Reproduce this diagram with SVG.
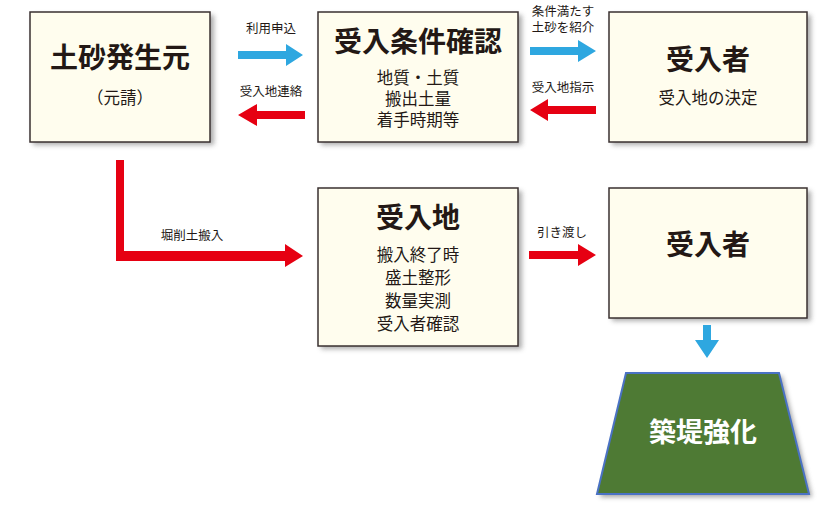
<svg xmlns="http://www.w3.org/2000/svg" width="840" height="510" viewBox="0 0 840 510">
<defs>
<filter id="sh" x="-10%" y="-10%" width="130%" height="130%"><feGaussianBlur stdDeviation="2.5"/></filter>
<style>
.box{fill:#fffdee;stroke:#3a3030;stroke-width:1.5}
.shd{fill:#888;filter:url(#sh);opacity:0.7}
text{font-family:"Noto Sans CJK JP","Noto Sans",sans-serif;fill:#231815;text-anchor:middle}
.t{font-size:28px;font-weight:bold}
.s{font-size:16.5px}
.l{font-size:12.5px}
.blue{fill:#2ea7e0}
.red{fill:#e60012}
</style>
</defs>
<g id="n1"><rect class="shd" x="33" y="15" width="181" height="130"/><rect class="box" x="30" y="12" width="180" height="130"/><text class="t" x="120" y="68">土砂発生元</text><text class="s" x="120" y="104">（元請）</text></g>
<g id="n2"><rect class="shd" x="321" y="15" width="201" height="130"/><rect class="box" x="318" y="12" width="200" height="130"/><text class="t" x="418" y="52">受入条件確認</text><text class="s" x="418" y="84">地質・土質</text><text class="s" x="418" y="105">搬出土量</text><text class="s" x="418" y="126">着手時期等</text></g>
<g id="n3"><rect class="shd" x="612" y="15" width="199" height="130"/><rect class="box" x="609" y="12" width="198" height="130"/><text class="t" x="708" y="70">受入者</text><text class="s" x="708" y="104">受入地の決定</text></g>
<g id="n4"><rect class="shd" x="321" y="191" width="201" height="158"/><rect class="box" x="318" y="188" width="200" height="158"/><text class="t" x="418" y="228">受入地</text><text class="s" x="418" y="261">搬入終了時</text><text class="s" x="418" y="284">盛土整形</text><text class="s" x="418" y="307">数量実測</text><text class="s" x="418" y="330">受入者確認</text></g>
<g id="n5"><rect class="shd" x="612" y="191" width="199" height="130"/><rect class="box" x="609" y="188" width="198" height="130"/><text class="t" x="708" y="255">受入者</text></g>
<g id="n6"><polygon points="629,376 782,376 812,497 600,497" fill="#777" filter="url(#sh)" opacity="0.7"/><polygon points="626,373 779,373 809,494 597,494" fill="#4e7a34" stroke="#4a72c4" stroke-width="2"/><text x="703" y="442" style="font-size:27px;font-weight:bold;fill:#fff">築堤強化</text></g>
<g id="connectors">
<polygon class="blue" points="238,51 286,51 286,44 303,55 286,66 286,59 238,59"/>
<polygon class="red" points="305,111 257,111 257,104 238,115 257,126 257,119 305,119"/>
<polygon class="blue" points="530,47 578,47 578,40 596,51 578,62 578,55 530,55"/>
<polygon class="red" points="596,106 548,106 548,99 530,110 548,121 548,114 596,114"/>
<polygon class="red" points="116,160 124,160 124,251 285,251 285,244 303,256 285,267 285,261 116,261"/>
<polygon class="red" points="529,251 578,251 578,244 596,255 578,266 578,259 529,259"/>
<polygon class="blue" points="703,325 711,325 711,340 719,340 707,358 695,340 703,340"/>
<text class="l" x="271" y="33">利用申込</text>
<text class="l" x="271" y="96">受入地連絡</text>
<text class="l" x="563" y="16">条件満たす</text>
<text class="l" x="563" y="32">土砂を紹介</text>
<text class="l" x="563" y="92">受入地指示</text>
<text class="l" x="192" y="240">堀削土搬入</text>
<text class="l" x="562" y="237">引き渡し</text>
</g>
</svg>
